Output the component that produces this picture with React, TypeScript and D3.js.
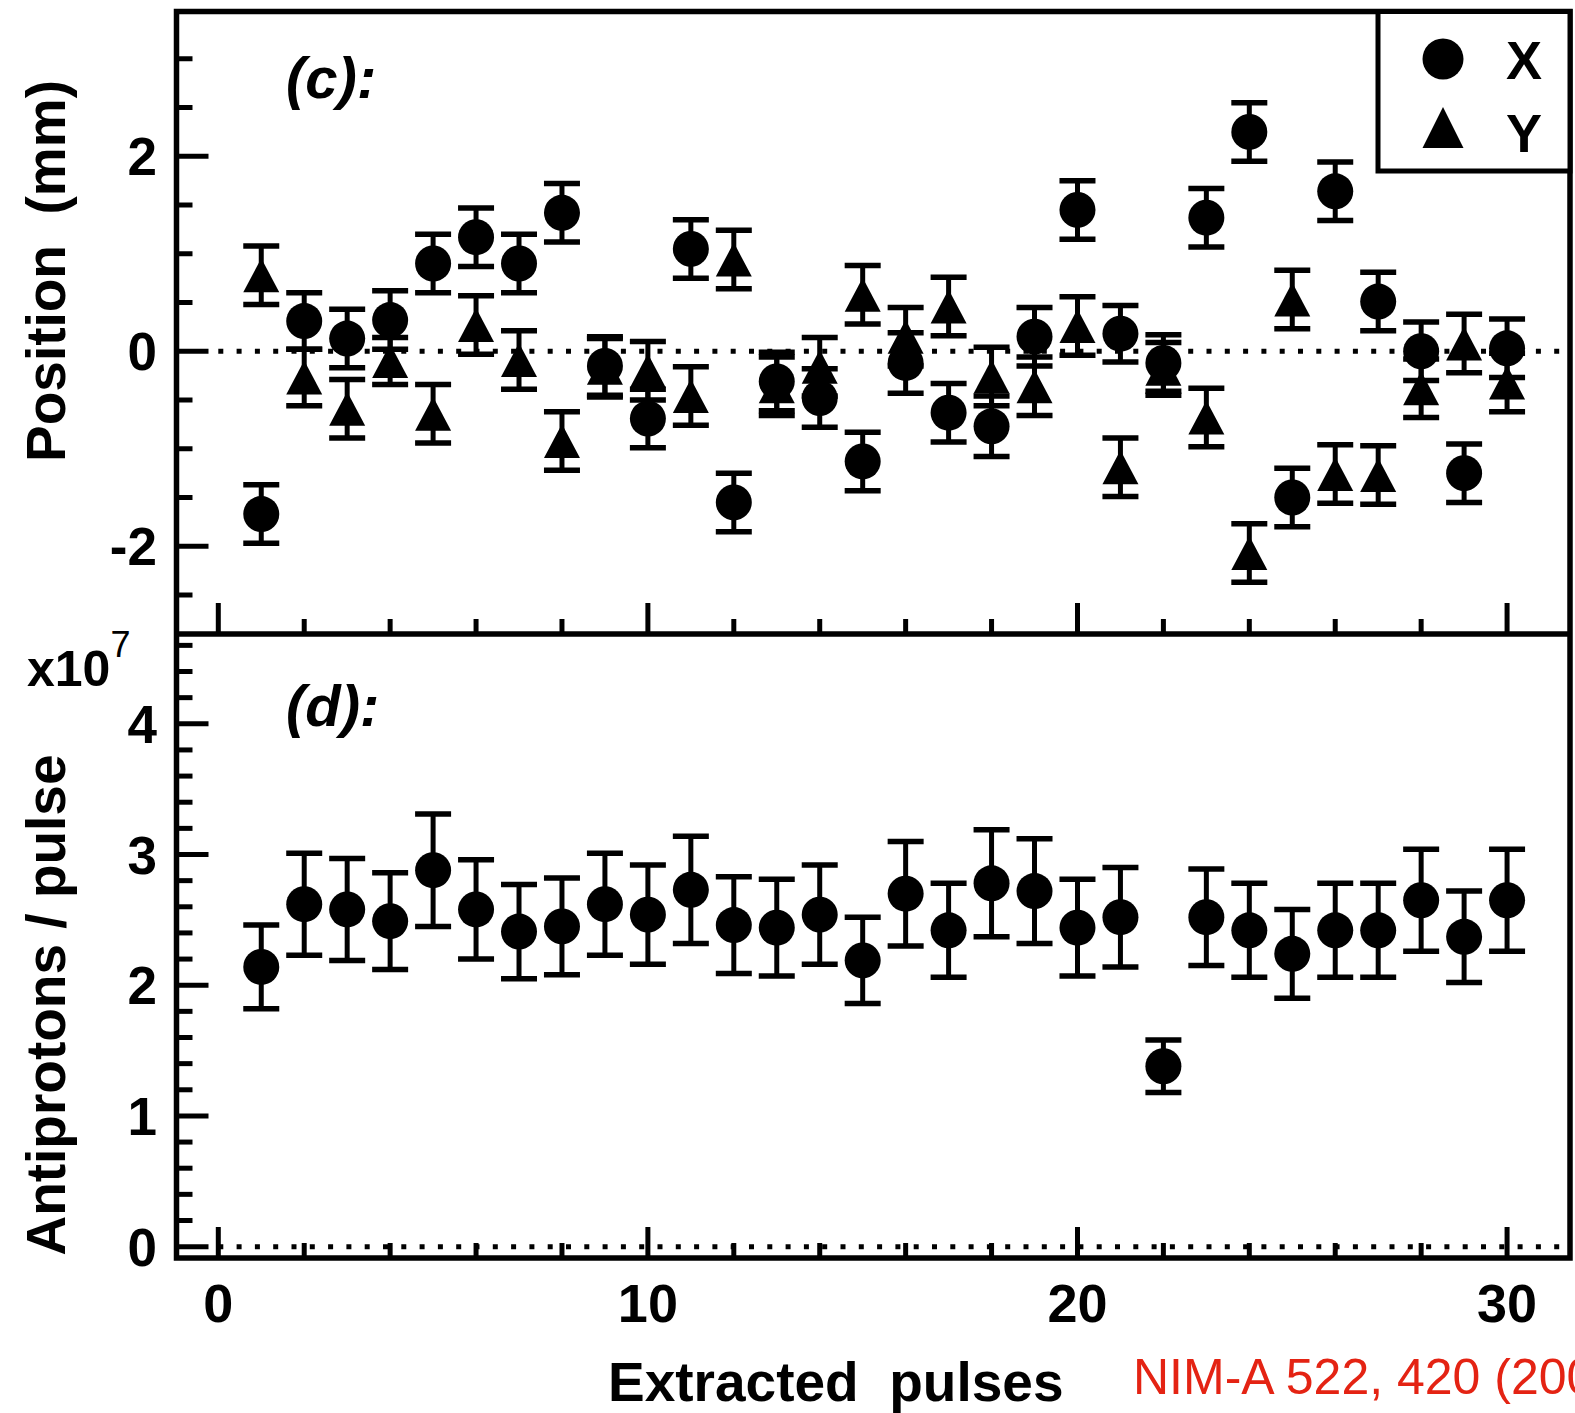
import React from 'react';
import * as d3 from 'd3';

// extracted pulse number
const pulses = [1, 2, 3, 4, 5, 6, 7, 8, 9, 10, 11, 12, 13, 14, 15, 16, 17, 18, 19, 20, 21, 22, 23, 24, 25, 26, 27, 28, 29, 30];

// (c) beam position, mm
const posX = [-1.67, 0.31, 0.13, 0.32, 0.90, 1.17, 0.90, 1.42, -0.15, -0.69, 1.05, -1.55, -0.31, -0.48, -1.13, -0.12, -0.63, -0.77, 0.15, 1.45, 0.18, -0.12, 1.37, 2.25, -1.50, 1.64, 0.51, 0.00, -1.25, 0.03];
const posXErr = [0.30, 0.29, 0.30, 0.30, 0.30, 0.30, 0.30, 0.30, 0.30, 0.30, 0.30, 0.30, 0.30, 0.30, 0.30, 0.31, 0.30, 0.31, 0.30, 0.30, 0.29, 0.29, 0.30, 0.30, 0.30, 0.30, 0.30, 0.30, 0.30, 0.30];
const posY = [0.78, -0.27, -0.59, -0.10, -0.64, 0.27, -0.09, -0.92, -0.17, -0.20, -0.46, 0.94, -0.36, -0.16, 0.58, 0.15, 0.46, -0.26, -0.36, 0.26, -1.19, -0.18, -0.68, -2.07, 0.53, -1.26, -1.27, -0.38, 0.08, -0.32];
const posYErr = [0.30, 0.29, 0.30, 0.24, 0.30, 0.30, 0.30, 0.30, 0.30, 0.30, 0.30, 0.30, 0.30, 0.30, 0.30, 0.30, 0.30, 0.30, 0.30, 0.30, 0.30, 0.27, 0.30, 0.30, 0.30, 0.30, 0.30, 0.30, 0.30, 0.30];

// (d) antiprotons per pulse, x10^7
const antiprotons = [2.14, 2.62, 2.58, 2.49, 2.88, 2.58, 2.41, 2.45, 2.62, 2.54, 2.73, 2.46, 2.44, 2.54, 2.19, 2.70, 2.42, 2.78, 2.72, 2.44, 2.52, 1.38, 2.52, 2.42, 2.24, 2.42, 2.42, 2.65, 2.37, 2.65];
const antiprotonsErr = [0.32, 0.39, 0.39, 0.37, 0.43, 0.38, 0.36, 0.37, 0.39, 0.38, 0.41, 0.37, 0.37, 0.38, 0.33, 0.40, 0.36, 0.41, 0.40, 0.37, 0.38, 0.20, 0.37, 0.36, 0.34, 0.36, 0.36, 0.39, 0.35, 0.39];

const xTickLabels = ['0', '10', '20', '30'];
const posTickLabels = ['-2', '0', '2'];
const antiTickLabels = ['0', '1', '2', '3', '4'];

const W = 1575;
const H = 1413;
const F = { left: 176.5, right: 1570, top: 11.5, mid: 634, bottom: 1258 };
const FONT = "'Liberation Sans', Arial, Helvetica, sans-serif";

const x = d3.scaleLinear().domain([-0.973, 31.465]).range([F.left, F.right]);
const yPos = d3.scaleLinear().domain([-2.9, 3.5]).range([F.mid, 10]);
const yAnti = d3.scaleLinear().domain([-0.087, 4.687]).range([F.bottom, F.mid]);

const triPath = (cx: number, cy: number, w: number, h: number) =>
  `M${cx},${cy - h / 2}L${cx + w / 2},${cy + h / 2}L${cx - w / 2},${cy + h / 2}Z`;

function ErrBar({ cx, y0, y1 }: { cx: number; y0: number; y1: number }) {
  return (
    <g stroke="#000">
      <line x1={cx} x2={cx} y1={y0} y2={y1} strokeWidth={5} />
      <line x1={cx - 18} x2={cx + 18} y1={y0} y2={y0} strokeWidth={5.5} />
      <line x1={cx - 18} x2={cx + 18} y1={y1} y2={y1} strokeWidth={5.5} />
    </g>
  );
}

export default function App() {
  const xTicks = d3.range(0, 31, 2);
  const posTicks = d3.range(-2.5, 3.01, 0.5);
  const antiTicks = d3.range(0, 4.61, 0.2);

  return (
    <svg width={W} height={H} style={{ position: 'absolute', left: 0, top: 0, background: '#fff' }}
      fontFamily={FONT}>
      <rect width={W} height={H} fill="#fff" />

      {/* zero lines */}
      <line x1={x(0)} x2={F.right} y1={yPos(0)} y2={yPos(0)} stroke="#000" strokeWidth={5} strokeDasharray="5 13.3" />
      <line x1={x(0)} x2={F.right} y1={yAnti(0)} y2={yAnti(0)} stroke="#000" strokeWidth={5} strokeDasharray="5 13.3" />

      {/* y ticks, top panel */}
      {posTicks.map(t => {
        const major = Math.abs(t % 2) < 1e-6;
        return <line key={'pt' + t} x1={F.left} x2={F.left + (major ? 32 : 16)} y1={yPos(t)} y2={yPos(t)} stroke="#000" strokeWidth={5} />;
      })}
      {posTickLabels.map(l => (
        <text key={'pl' + l} x={157} y={yPos(+l) + 19} textAnchor="end" fontSize={53} fontWeight="bold">{l}</text>
      ))}

      {/* y ticks, bottom panel */}
      {antiTicks.map(t => {
        const major = Math.abs(t - Math.round(t)) < 1e-6;
        return <line key={'at' + t} x1={F.left} x2={F.left + (major ? 32 : 16)} y1={yAnti(t)} y2={yAnti(t)} stroke="#000" strokeWidth={5} />;
      })}
      {antiTickLabels.map(l => (
        <text key={'al' + l} x={157} y={yAnti(+l) + 19} textAnchor="end" fontSize={53} fontWeight="bold">{l}</text>
      ))}

      {/* x ticks on both panels */}
      {[F.mid, F.bottom].map(base => xTicks.map(t => {
        const major = t % 10 === 0;
        return <line key={base + 'x' + t} x1={x(t)} x2={x(t)} y1={base} y2={base - (major ? 31 : 15)} stroke="#000" strokeWidth={5} />;
      }))}
      {xTickLabels.map(l => (
        <text key={'xl' + l} x={x(+l)} y={1322} textAnchor="middle" fontSize={54} fontWeight="bold">{l}</text>
      ))}

      {/* frame */}
      <rect x={F.left} y={F.top} width={F.right - F.left} height={F.bottom - F.top} fill="none" stroke="#000" strokeWidth={5.5} />
      <line x1={F.left} x2={F.right} y1={F.mid} y2={F.mid} stroke="#000" strokeWidth={5.5} />

      {/* top panel data: Y triangles, then X circles */}
      {pulses.map((p, i) => (
        <g key={'y' + p}>
          <ErrBar cx={x(p)} y0={yPos(posY[i] + posYErr[i])} y1={yPos(posY[i] - posYErr[i])} />
          <path d={triPath(x(p), yPos(posY[i]), 36, 34)} fill="#000" />
        </g>
      ))}
      {pulses.map((p, i) => (
        <g key={'x' + p}>
          <ErrBar cx={x(p)} y0={yPos(posX[i] + posXErr[i])} y1={yPos(posX[i] - posXErr[i])} />
          <circle cx={x(p)} cy={yPos(posX[i])} r={18} fill="#000" />
        </g>
      ))}

      {/* bottom panel data */}
      {pulses.map((p, i) => (
        <g key={'n' + p}>
          <ErrBar cx={x(p)} y0={yAnti(antiprotons[i] + antiprotonsErr[i])} y1={yAnti(antiprotons[i] - antiprotonsErr[i])} />
          <circle cx={x(p)} cy={yAnti(antiprotons[i])} r={18} fill="#000" />
        </g>
      ))}

      {/* legend */}
      <rect x={1378} y={F.top} width={F.right - 1378} height={171 - F.top} fill="#fff" stroke="#000" strokeWidth={5} />
      <circle cx={1443} cy={59} r={20.5} fill="#000" />
      <text x={1506} y={79} fontSize={54} fontWeight="bold">X</text>
      <path d={triPath(1443, 127.5, 41, 41)} fill="#000" />
      <text x={1506} y={152} fontSize={54} fontWeight="bold">Y</text>

      {/* panel tags */}
      <text x={286} y={98} fontSize={58} fontWeight="bold" fontStyle="italic">(c):</text>
      <text x={286} y={726} fontSize={58} fontWeight="bold" fontStyle="italic">(d):</text>

      {/* axis titles */}
      <text transform={`translate(65,271) rotate(-90)`} textAnchor="middle" fontSize={55} fontWeight="bold" style={{ whiteSpace: 'pre' }}>Position  (mm)</text>
      <text transform={`translate(65,1005) rotate(-90)`} textAnchor="middle" fontSize={55} fontWeight="bold">Antiprotons / pulse</text>
      <text x={27} y={686} fontSize={50} fontWeight="bold">x10<tspan dy={-29} fontSize={36} fontWeight="normal">7</tspan></text>
      <text x={608} y={1401} fontSize={55} fontWeight="bold" style={{ whiteSpace: 'pre' }}>Extracted  pulses</text>

      <text x={1133} y={1394} fontSize={50} fill="#e42313">NIM-A 522, 420 (2004)</text>
    </svg>
  );
}
